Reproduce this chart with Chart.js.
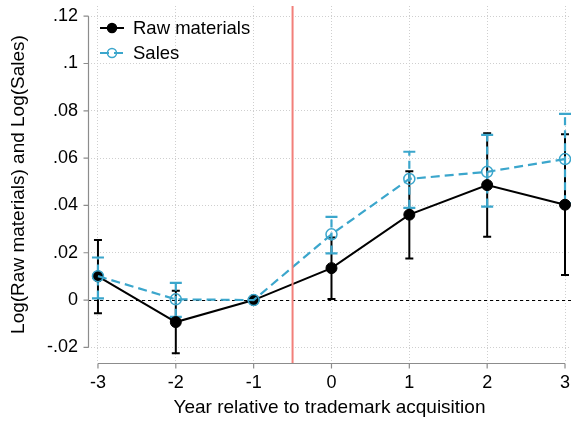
<!DOCTYPE html>
<html lang="en">
<head>
<meta charset="UTF-8">
<title>Raw materials and sales around trademark acquisition</title>
<script src="https://cdn.jsdelivr.net/npm/chart.js@4.4.1/dist/chart.umd.min.js"></script>
<style>
  html, body { margin: 0; padding: 0; background: #fff; }
  .chart-box { position: relative; width: 571px; height: 421px; }
</style>
</head>
<body>
<div class="chart-box"><canvas id="eventChart"></canvas></div>
<script>
// Event-time estimates (year -1 is the omitted reference year)
const years = [-3, -2, -1, 0, 1, 2, 3];
const rawMaterials = [0.0100, -0.0093, 0, 0.0135, 0.0361, 0.0486, 0.0403];
const rawLow = [-0.0056, -0.0225, null, 0.0004, 0.0176, 0.0268, 0.0106];
const rawHigh = [0.0254, 0.0039, null, 0.0265, 0.0545, 0.0705, 0.0701];
const sales = [0.0101, 0.0003, 0, 0.0278, 0.0512, 0.0542, 0.0596];
const salesLow = [0.0007, -0.0071, null, 0.0197, 0.0390, 0.0395, 0.0409];
const salesHigh = [0.0180, 0.0073, null, 0.0352, 0.0627, 0.0698, 0.0787];
const yTicks = [-0.02, 0, 0.02, 0.04, 0.06, 0.08, 0.1, 0.12];
const eventYear = -0.5;

const FONT = '"Liberation Sans", Arial, Helvetica, sans-serif';
const BLUE = '#3ba6cc';
const BLACK = '#000000';

// Stata-style labels: ".12", ".1", "-.02", "0"
function fmtTick(v) {
    const r = Math.round(v * 100) / 100;
    if (r === 0) return '0';
    return String(r).replace('0.', '.');
}

function pts(ys) {
    return years.map((x, i) => ({ x: x, y: ys[i] }));
}

// keep the plot region fixed, ignore label overhang
function noOverhang(s) {
    s.paddingLeft = 0;
    s.paddingRight = 0;
    s.paddingTop = 0;
    s.paddingBottom = 0;
}

// Confidence intervals, zero line, event line and the offset axes
const decorations = {
    id: 'decorations',
    beforeDatasetsDraw(chart) {
        const { ctx, chartArea, scales: { x, y } } = chart;
        ctx.save();
        // dashed zero line
        ctx.strokeStyle = '#000';
        ctx.lineWidth = 1;
        ctx.setLineDash([3, 3]);
        const y0 = Math.round(y.getPixelForValue(0)) + 0.5;
        ctx.beginPath();
        ctx.moveTo(chartArea.left, y0);
        ctx.lineTo(chartArea.right, y0);
        ctx.stroke();

        // error bars: raw materials first, sales on top
        const bars = [
            { lo: rawLow, hi: rawHigh, color: BLACK, width: 2, cap: 4, dash: [] },
            { lo: salesLow, hi: salesHigh, color: BLUE, width: 2.2, cap: 6, dash: [8, 5] }
        ];
        bars.forEach(b => {
            years.forEach((yr, i) => {
                if (b.lo[i] === null) return;
                const px = x.getPixelForValue(yr);
                const pLo = y.getPixelForValue(b.lo[i]);
                const pHi = y.getPixelForValue(b.hi[i]);
                ctx.strokeStyle = b.color;
                ctx.lineWidth = b.width;
                ctx.setLineDash(b.dash);
                ctx.beginPath();
                ctx.moveTo(px, pLo);
                ctx.lineTo(px, pHi);
                ctx.stroke();
                ctx.setLineDash([]);
                ctx.beginPath();
                ctx.moveTo(px - b.cap, pLo);
                ctx.lineTo(px + b.cap, pLo);
                ctx.moveTo(px - b.cap, pHi);
                ctx.lineTo(px + b.cap, pHi);
                ctx.stroke();
            });
        });
        ctx.restore();
    },
    afterDatasetsDraw(chart) {
        const { ctx, chartArea, scales: { x, y } } = chart;
        ctx.save();
        // event line
        const ex = x.getPixelForValue(eventYear);
        ctx.strokeStyle = '#f27f7a';
        ctx.lineWidth = 2;
        ctx.beginPath();
        ctx.moveTo(ex, chartArea.top);
        ctx.lineTo(ex, chartArea.bottom);
        ctx.stroke();

        // axes, detached from the plot region
        ctx.strokeStyle = '#8c8c8c';
        ctx.lineWidth = 1.2;
        const ax = chartArea.left + 0.5;
        ctx.beginPath();
        ctx.moveTo(ax, y.getPixelForValue(yTicks[0]));
        ctx.lineTo(ax, y.getPixelForValue(yTicks[yTicks.length - 1]));
        yTicks.forEach(t => {
            const py = y.getPixelForValue(t);
            ctx.moveTo(ax, py);
            ctx.lineTo(ax - 5, py);
        });
        const ay = chartArea.bottom + 0.5;
        ctx.moveTo(x.getPixelForValue(years[0]), ay);
        ctx.lineTo(x.getPixelForValue(years[years.length - 1]), ay);
        years.forEach(t => {
            const px = x.getPixelForValue(t);
            ctx.moveTo(px, ay);
            ctx.lineTo(px, ay + 5);
        });
        ctx.stroke();
        ctx.restore();
    },
    afterDraw(chart) {
        // legend inside the plot, top left
        const { ctx } = chart;
        ctx.save();
        ctx.font = '18.5px ' + FONT;
        ctx.textBaseline = 'middle';
        chart.data.datasets.forEach((ds, i) => {
            const ly = 28 + i * 25;
            ctx.strokeStyle = ds.borderColor;
            ctx.lineWidth = 2;
            ctx.setLineDash(ds.borderDash || []);
            ctx.beginPath();
            ctx.moveTo(100, ly);
            ctx.lineTo(124, ly);
            ctx.stroke();
            ctx.setLineDash([]);
            ctx.beginPath();
            ctx.arc(112, ly, 4.5, 0, Math.PI * 2);
            ctx.fillStyle = ds.pointBackgroundColor;
            ctx.fill();
            ctx.lineWidth = 1.5;
            ctx.strokeStyle = ds.pointBorderColor;
            ctx.stroke();
            ctx.fillStyle = '#000';
            ctx.fillText(ds.label, 133, ly + 1);
        });
        ctx.restore();
    }
};

new Chart(document.getElementById('eventChart'), {
    type: 'line',
    data: {
        datasets: [
            {
                label: 'Raw materials',
                data: pts(rawMaterials),
                borderColor: BLACK,
                borderWidth: 2,
                pointRadius: 5.5,
                pointBackgroundColor: BLACK,
                pointBorderColor: BLACK,
                pointBorderWidth: 1,
                clip: false,
                order: 1
            },
            {
                label: 'Sales',
                data: pts(sales),
                borderColor: BLUE,
                borderWidth: 2.2,
                borderDash: [9, 5],
                pointRadius: 5.5,
                pointBackgroundColor: 'rgba(0,0,0,0)',
                pointBorderColor: BLUE,
                pointBorderWidth: 1.5,
                clip: false,
                order: 0
            }
        ]
    },
    options: {
        responsive: true,
        maintainAspectRatio: false,
        animation: false,
        layout: { autoPadding: false, padding: { top: 6, right: 0, left: 0, bottom: 0 } },
        plugins: { legend: { display: false }, tooltip: { enabled: false } },
        scales: {
            x: {
                type: 'linear',
                min: -3.128,
                max: 3.077,
                afterBuildTicks: s => { s.ticks = years.map(v => ({ value: v })); },
                afterFit: s => { s.height = 58; noOverhang(s); },
                grid: { color: '#cfcfcf', lineWidth: 1, drawTicks: false },
                border: { display: false, dash: [1, 2] },
                ticks: {
                    padding: 9,
                    color: '#000',
                    font: { family: FONT, size: 18 },
                    callback: v => String(v)
                },
                title: {
                    display: true,
                    text: 'Year relative to trademark acquisition',
                    color: '#000',
                    font: { family: FONT, size: 19 },
                    padding: { top: 2, bottom: 2 }
                }
            },
            y: {
                min: -0.0266,
                max: 0.1243,
                afterBuildTicks: s => { s.ticks = yTicks.map(v => ({ value: v })); },
                afterFit: s => { s.width = 88; noOverhang(s); },
                grid: { color: '#cfcfcf', lineWidth: 1, drawTicks: false },
                border: { display: false, dash: [1, 2] },
                ticks: {
                    padding: 10,
                    color: '#000',
                    font: { family: FONT, size: 18 },
                    callback: v => fmtTick(v)
                },
                title: {
                    display: true,
                    text: 'Log(Raw materials) and Log(Sales)',
                    color: '#000',
                    font: { family: FONT, size: 19 },
                    padding: { top: 7, bottom: 0 }
                }
            }
        }
    },
    plugins: [decorations]
});
</script>
</body>
</html>
